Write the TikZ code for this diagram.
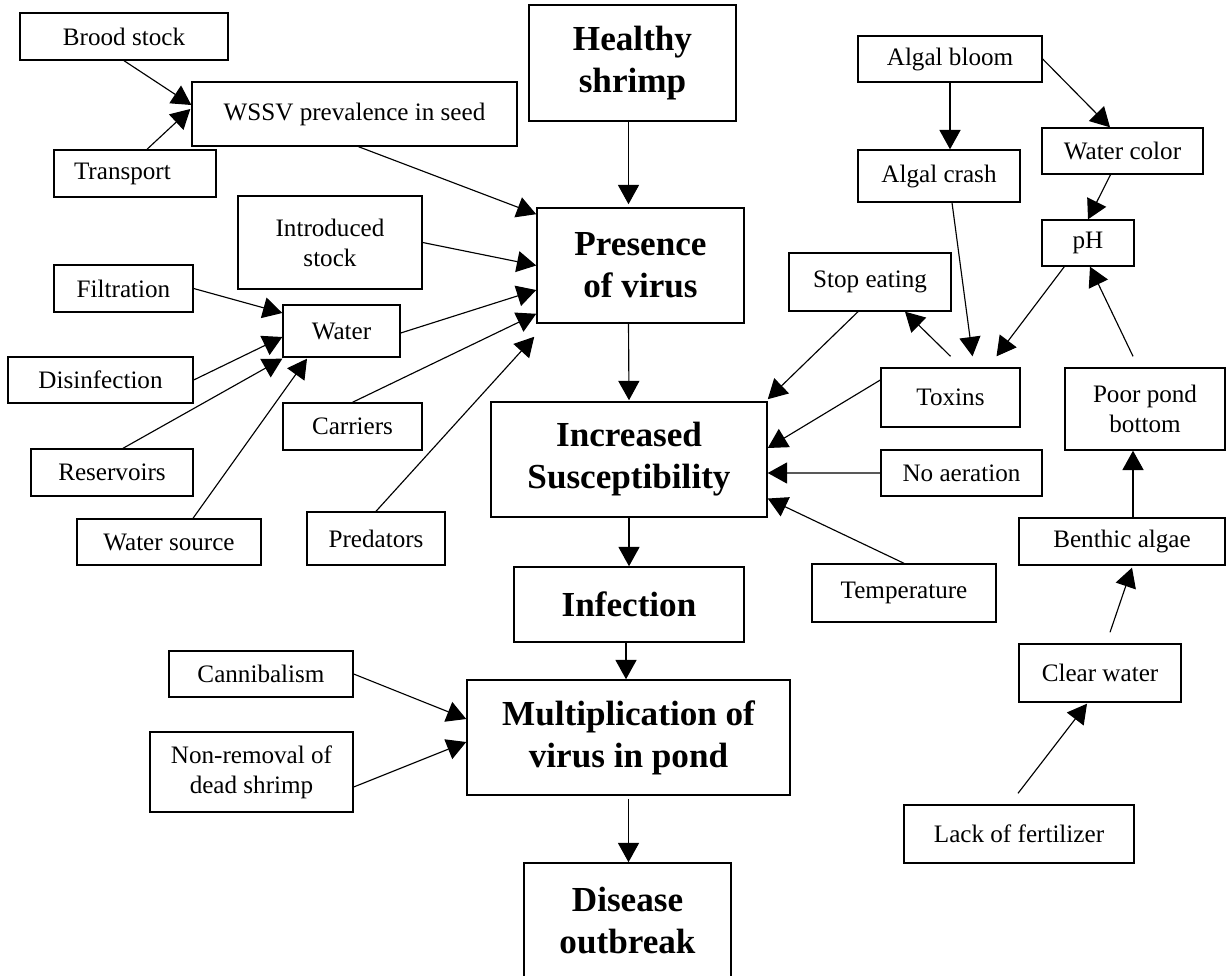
\documentclass[tikz,border=0pt]{standalone}
\usepackage{fontspec}
\setmainfont{Liberation Serif}
\usetikzlibrary{arrows.meta,calc}

\begin{document}
\begin{tikzpicture}[x=0.02cm,y=-0.02cm,
  factorbox/.style={draw,line width=0.8pt,inner sep=0pt,align=center,font=\fontsize{14.3}{17}\selectfont},
  stagebox/.style={draw,line width=0.9pt,inner sep=0pt,align=center,font=\fontsize{20}{24}\selectfont\bfseries},
  arr/.style={line width=0.65pt,->,>={Triangle[length=11pt,width=12pt]}}]
\useasboundingbox (0,0) rectangle (1226,976);
% left side
\node[factorbox,minimum width=4.16cm,minimum height=0.94cm] (brood) at (124,36.5) {Brood stock};
\node[factorbox,minimum width=6.5cm,minimum height=1.28cm] (wssv) at (354.5,114) {WSSV prevalence in seed};
\node[factorbox,minimum height=0.94cm,text width=2.44cm,inner xsep=0.4cm,align=left] (transport) at (135,173.5) {Transport};
\node[factorbox,minimum width=3.68cm,minimum height=1.86cm] (introduced) at (330,242.5) {Introduced\\stock};
\node[factorbox,minimum width=2.78cm,minimum height=0.94cm] (filtration) at (123.5,288.5) {Filtration};
\node[factorbox,minimum width=2.34cm,minimum height=1.04cm] (water) at (341.5,331) {Water};
\node[factorbox,minimum width=3.7cm,minimum height=0.92cm] (disinfection) at (100.5,380) {Disinfection};
\node[factorbox,minimum width=3.24cm,minimum height=0.94cm] (reservoirs) at (112,472.5) {Reservoirs};
\node[factorbox,minimum width=3.68cm,minimum height=0.92cm] (source) at (169,542) {Water source};
\node[factorbox,minimum width=2.78cm,minimum height=0.94cm] (carriers) at (352.5,426.5) {Carriers};
\node[factorbox,minimum width=2.76cm,minimum height=1.06cm] (predators) at (376,538.5) {Predators};
\node[factorbox,minimum width=3.68cm,minimum height=0.92cm] (cannibalism) at (261,674) {Cannibalism};
\node[factorbox,minimum width=4.06cm,minimum height=1.6cm] (nonremoval) at (251.5,772) {Non-removal of\\dead shrimp};
% main chain
\node[stagebox,minimum width=4.14cm,minimum height=2.32cm] (healthy) at (632.5,63) {Healthy\\shrimp};
\node[stagebox,minimum width=4.14cm,minimum height=2.3cm] (presence) at (640.5,265.5) {Presence\\of virus};
\node[stagebox,minimum width=5.52cm,minimum height=2.3cm] (suscept) at (629,459.5) {Increased\\Susceptibility};
\node[stagebox,minimum width=4.6cm,minimum height=1.5cm] (infection) at (629,604.5) {Infection};
\node[stagebox,minimum width=6.46cm,minimum height=2.3cm] (multiplication) at (628.5,737.5) {Multiplication of\\virus in pond};
\node[stagebox,minimum width=4.14cm,minimum height=2.3cm] (outbreak) at (627.5,920.5) {Disease\\outbreak};
% right side
\node[factorbox,minimum width=3.68cm,minimum height=0.92cm] (bloom) at (950,59) {Algal bloom};
\node[factorbox,minimum width=3.24cm,minimum height=1.04cm] (crash) at (939,176) {Algal crash};
\node[factorbox,minimum width=3.22cm,minimum height=0.92cm] (color) at (1122.5,151) {Water color};
\node[factorbox,minimum width=1.84cm,minimum height=0.92cm] (ph) at (1088,243) {pH};
\node[factorbox,minimum width=3.24cm,minimum height=1.16cm] (stopeating) at (870,282) {Stop eating};
\node[factorbox,minimum width=2.78cm,minimum height=1.18cm] (toxins) at (950.5,397.5) {Toxins};
\node[factorbox,minimum width=3.22cm,minimum height=0.92cm] (aeration) at (961.5,473) {No aeration};
\node[factorbox,minimum width=3.68cm,minimum height=1.16cm] (temperature) at (904,593) {Temperature};
\node[factorbox,minimum width=3.2cm,minimum height=1.64cm] (bottom) at (1145,409) {Poor pond\\bottom};
\node[factorbox,minimum width=4.12cm,minimum height=0.94cm] (benthic) at (1122,541.5) {Benthic algae};
\node[factorbox,minimum width=3.24cm,minimum height=1.16cm] (clear) at (1100,673) {Clear water};
\node[factorbox,minimum width=4.6cm,minimum height=1.16cm] (fertilizer) at (1019,834) {Lack of fertilizer};
% arrows into the chain
\draw[arr] (brood.south) -- ($(wssv.west)+(0,-9)$);
\draw[arr] ($(transport.north)+(12,0)$) -- ($(wssv.west)+(-1,-5)$);
\draw[arr] ($(wssv.south)+(4,0)$) -- ($(presence.north west)+(0,7)$);
\draw[arr] ($(healthy.south)+(-4,0)$) -- ($(presence.north)+(-12,-3)$);
\draw[arr] (introduced.east) -- (presence.west);
\draw[arr] ($(water.east)+(0,2)$) -- ($(presence.west)+(0,24.5)$);
\draw[arr] (carriers.north) -- ($(presence.south west)+(0,-10)$);
\draw[arr] (predators.north) -- ($(presence.south west)+(-2,13)$);
\draw[arr] ($(presence.south)+(-12,0)$) -- ($(suscept.north)+(0,-1)$);
\draw[arr] (suscept.south) -- (infection.north);
\draw[arr] ($(infection.south)+(-3,0)$) -- ($(multiplication.north)+(-2.5,0)$);
\draw[arr] ($(multiplication.south)+(0,3)$) -- (multiplication.south |- outbreak.north);
\draw[arr] (cannibalism.east) -- ($(multiplication.west)+(0,-18.5)$);
\draw[arr] ($(nonremoval.east)+(0,15)$) -- ($(multiplication.west)+(0,4.5)$);
\draw[arr] (filtration.east) -- ($(water.west)+(0,-18)$);
\draw[arr] (disinfection.east) -- ($(water.west)+(0,6)$);
\draw[arr] ($(reservoirs.north)+(11,0)$) -- ($(water.south west)+(0,1)$);
\draw[arr] ($(source.north)+(24,0)$) -- ($(water.south)+(-34.5,1)$);
\draw[arr] (bloom.south) -- ($(crash.north)+(11,0)$);
\draw[arr] (bloom.east) -- ($(color.north)+(-12.5,0)$);
\draw[arr] ($(color.south)+(-12,0)$) -- (ph.north);
\draw[arr] ($(crash.south)+(13,0)$) -- ($(toxins.north)+(22,-11)$);
\draw[arr] ($(ph.south west)+(23,0)$) -- ($(toxins.north)+(46,-11)$);
\draw[arr] ($(bottom.north)+(-12,-11)$) -- ($(ph.south)+(2,0)$);
\draw[arr] ($(toxins.north)+(0,-11)$) -- ($(stopeating.south)+(35,0)$);
\draw[arr] ($(stopeating.south)+(-12,0)$) -- ($(suscept.north east)+(0,-2)$);
\draw[arr] ($(toxins.west)+(0,-17.5)$) -- ($(suscept.east)+(0,-11.5)$);
\draw[arr] (aeration.west) -- ($(suscept.east)+(0,13.5)$);
\draw[arr] (temperature.north) -- ($(suscept.east)+(0,39)$);
\draw[arr] ($(benthic.north)+(11,0)$) -- ($(bottom.south)+(-12,0)$);
\draw[arr] ($(clear.north)+(10,-11)$) -- ($(benthic.south)+(10,2)$);
\draw[arr] ($(fertilizer.north)+(-1,-11)$) -- ($(clear.south)+(-13,1)$);
\end{tikzpicture}
\end{document}
